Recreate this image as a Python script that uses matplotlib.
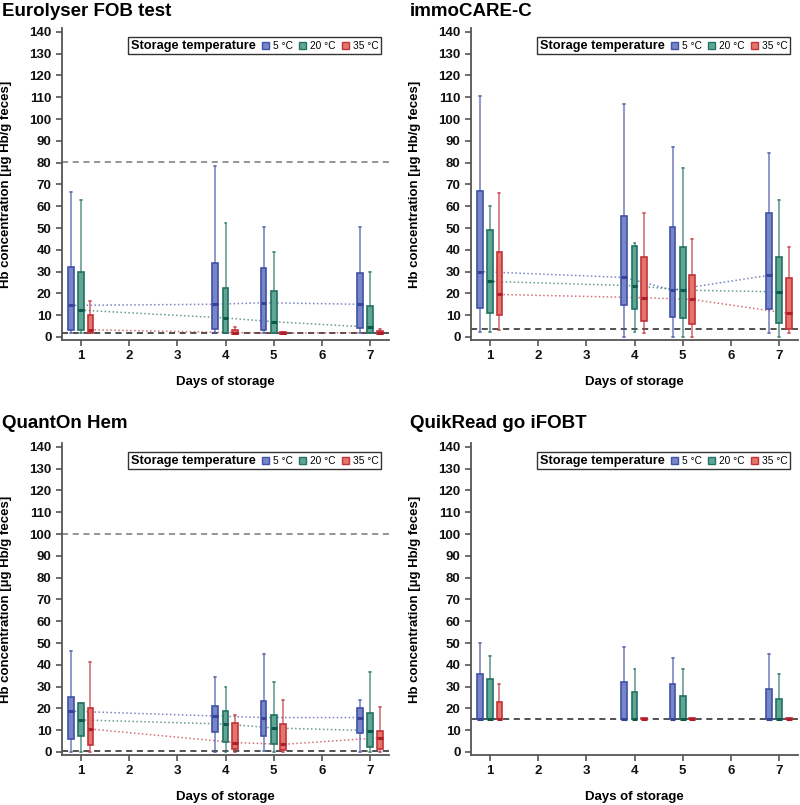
import matplotlib
matplotlib.use("Agg")
import matplotlib.pyplot as plt
from matplotlib.patches import Rectangle

plt.rcParams['font.family'] = ['Liberation Sans', 'DejaVu Sans']

days = [1, 4, 5, 7]
temps = ["5 °C", "20 °C", "35 °C"]
titles = ["Eurolyser FOB test", "immoCARE-C", "QuantOn Hem", "QuikRead go iFOBT"]

# each row: [whisker low, q1, median, q3, whisker high] for days 1, 4, 5, 7
euro_5 = [[2, 3.3, 14.5, 32, 66.5], [2, 3.7, 15, 34, 78.5], [2, 3.3, 15.7, 31.5, 50.3], [2, 4, 15, 29.3, 50.3]]
euro_20 = [[2, 3.3, 12.3, 29.7, 63], [2, 2, 8.7, 22.5, 52.5], [2, 2, 7, 21, 39], [2, 2, 4.5, 14, 29.7]]
euro_35 = [[2, 2, 3.3, 10, 16.5], [1.5, 1.5, 2, 3, 4.5], [1.5, 1.5, 1.8, 2.3, 2.3], [1.5, 1.5, 2, 2.8, 3.5]]

immo_5 = [[2.2, 13.5, 30, 67, 110.8], [0, 14.7, 27.3, 55.3, 106.7], [0, 9.3, 21.5, 50.3, 87.3], [2, 12.7, 28.3, 56.7, 84.5]]
immo_20 = [[2.2, 11, 25.5, 49, 60], [2.5, 13, 23.5, 41.7, 43], [0, 8.7, 21.5, 41.3, 77.5], [0, 6.3, 20.7, 36.5, 63]]
immo_35 = [[3, 10, 19.5, 39, 66], [2, 7.5, 18, 36.8, 57], [0, 6, 17.2, 28.3, 45], [2, 3.8, 10.8, 27, 41.3]]

quant_5 = [[0, 5.8, 18.7, 25.3, 46.5], [0, 9, 16.5, 21.2, 34.5], [0.5, 7.3, 15.8, 23.5, 45], [0, 8.5, 15.8, 20, 23.8]]
quant_20 = [[0, 7.3, 14.7, 22.3, 22.5], [0, 4.7, 12.8, 19, 30], [0, 3.5, 11, 17, 32.3], [0, 2.5, 9.8, 18, 36.7]]
quant_35 = [[0, 3, 10.5, 20, 41.5], [0, 1.5, 4.3, 13.3, 17], [0, 0.8, 3.5, 12.8, 23.8], [0, 1.5, 6.5, 9.8, 20.5]]

quik_5 = [[15, 15, 15, 36, 50], [15, 15, 15, 32, 48], [15, 15, 15, 31.3, 43], [15, 15, 15, 28.7, 45]]
quik_20 = [[15, 15, 15, 33.5, 44], [15, 15, 15, 27.5, 38], [15, 15, 15, 25.7, 38], [15, 15, 15, 24.5, 36]]
quik_35 = [[15, 15, 15, 22.7, 31], [15, 15, 15, 15.6, 15.6], [15, 15, 15, 15.6, 15.6], [15, 15, 15, 15.6, 15.6]]

# reference lines: (value, colour)
euro_refs = [(80.5, "#777777"), (2, "#222222")]
immo_refs = [(3.8, "#222222")]
quant_refs = [(100, "#777777"), (0.5, "#222222")]
quik_refs = [(15, "#222222")]

panels = [
    (euro_5, euro_20, euro_35, euro_refs, True),
    (immo_5, immo_20, immo_35, immo_refs, True),
    (quant_5, quant_20, quant_35, quant_refs, True),
    (quik_5, quik_20, quik_35, quik_refs, False),
]

fills = ["#7686c9", "#5fa697", "#e3756a"]
edges = ["#4252a6", "#237263", "#c2333c"]
meds = ["#34449a", "#0c5a4c", "#b01e2c"]
offsets = [-0.21, 0.0, 0.2]

W, H = 800, 805
fig = plt.figure(figsize=(W / 100, H / 100), dpi=100)

axes_px = [(62, 28, 389, 340), (471, 28, 798, 340), (62, 443, 389, 755), (471, 443, 798, 755)]
title_px = [(2, 11), (410, 11), (2, 423), (410, 423)]

for i, (s5, s20, s35, refs, median_lines) in enumerate(panels):
    l, t, r, b = axes_px[i]
    ax = fig.add_axes([l / W, (H - b) / H, (r - l) / W, (b - t) / H])
    fig.text(title_px[i][0] / W, 1 - title_px[i][1] / H, titles[i], fontsize=13.5,
             fontweight='bold', va='center', ha='left')

    for val, col in refs:
        ax.axhline(val, color=col, lw=1.1, ls=(0, (4, 3)), zorder=1)

    for k, series in enumerate([s5, s20, s35]):
        stats = []
        for row in series:
            stats.append(dict(whislo=row[0], q1=row[1], med=row[2], q3=row[3], whishi=row[4], fliers=[]))
        pos = [d + offsets[k] for d in days]
        ax.bxp(stats, positions=pos, widths=0.12, patch_artist=True, showfliers=False,
               capwidths=0.04, manage_ticks=False,
               boxprops=dict(facecolor=fills[k], edgecolor=edges[k], lw=1.2),
               whiskerprops=dict(color=edges[k], lw=1.1, alpha=0.75),
               capprops=dict(color=edges[k], lw=1.1, alpha=0.75),
               medianprops=dict(color=meds[k], lw=2.2))
        if median_lines:
            ax.plot(pos, [row[2] for row in series], ls=(0, (1, 1.6)), color=edges[k],
                    lw=1.1, alpha=0.7, zorder=1.5)

    ax.set_xlim(0.61, 7.39)
    ax.set_ylim(-1.4, 141.8)
    ax.set_xticks(range(1, 8))
    ax.set_yticks(range(0, 141, 10))
    for side in ['top', 'right']:
        ax.spines[side].set_visible(False)
    for side in ['left', 'bottom']:
        ax.spines[side].set_color("#555555")
        ax.spines[side].set_linewidth(1.3)
    ax.tick_params(colors="#555555", width=1.2, length=4, labelsize=9.5, labelcolor="#111111")
    for lab in ax.get_xticklabels() + ax.get_yticklabels():
        lab.set_fontweight('bold')
    ax.set_xlabel("Days of storage", fontsize=9.5, fontweight='bold')
    ax.xaxis.set_label_coords(0.5, -0.115)
    ax.set_ylabel("Hb concentration [µg Hb/g feces]", fontsize=9.5, fontweight='bold')
    ax.yaxis.set_label_coords(-0.152, 0.5)

    handles = [Rectangle((0, 0), 1, 1, visible=False)]
    for k in range(3):
        handles.append(Rectangle((0, 0), 1, 1, facecolor=fills[k], edgecolor=edges[k], lw=1))
    leg = ax.legend(handles, ["Storage temperature"] + temps, ncol=4, loc='upper right',
                    bbox_to_anchor=(0.991, 0.987), fontsize=7.3, handlelength=0.7,
                    handleheight=0.7, handletextpad=0.4, columnspacing=0.6,
                    borderpad=0.25, fancybox=False, framealpha=1, edgecolor="#333333")
    leg.get_frame().set_linewidth(1.0)
    leg.get_texts()[0].set_fontweight('bold')
    leg.get_texts()[0].set_fontsize(9.2)
    # drop the empty handle slot in front of the title entry
    try:
        first = leg._legend_handle_box.get_children()[0].get_children()[0]
        first.get_children()[0].width = 0
        first.sep = 0
    except Exception:
        pass

fig.savefig("out.png", dpi=100)
